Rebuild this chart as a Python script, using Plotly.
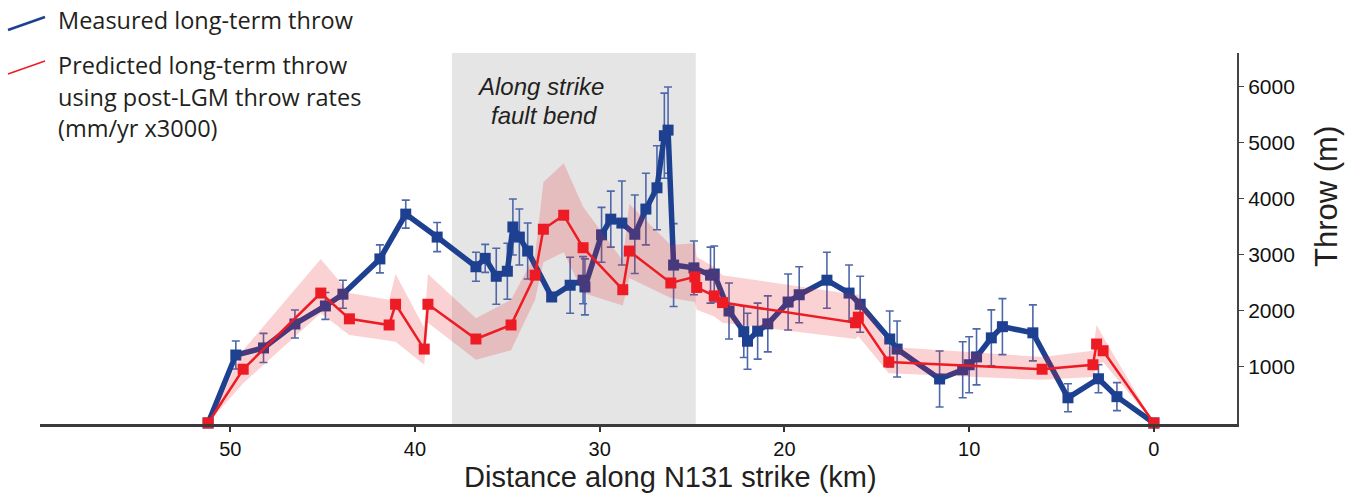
import plotly.graph_objects as go

# Measured long-term throw (blue)
blue_dist = [51.2, 49.7, 48.2, 46.5, 44.85, 43.9, 41.9, 40.5, 38.8, 36.7, 36.2, 35.6, 35.0, 34.7, 34.35,
             33.9, 32.6, 31.6, 30.9, 30.8, 29.9, 29.4, 28.8, 28.1, 27.5, 26.9, 26.5, 26.3, 26.0, 24.9,
             24.0, 23.8, 23.0, 22.2, 22.0, 21.45, 20.9, 19.8, 19.2, 17.7, 16.5, 15.9, 14.3, 13.9, 11.6,
             10.35, 10.0, 9.6, 8.8, 8.2, 6.55, 4.65, 3.0, 2.0, 0.0]
blue_throw = [0, 1214, 1340, 1768, 2090, 2300, 2930, 3730, 3320, 2790, 2940, 2620, 2710, 3500, 3320,
              3070, 2250, 2460, 2550, 2430, 3360, 3640, 3570, 3370, 3820, 4200, 5130, 5230, 2820, 2770,
              2640, 2660, 2000, 1630, 1460, 1640, 1770, 2160, 2290, 2550, 2320, 2120, 1500, 1320, 786,
              950, 1040, 1180, 1520, 1720, 1610, 450, 790, 470, 0]
blue_err = [0, 250, 260, 250, 240, 250, 250, 250, 260, 260, 250, 500, 500, 500, 500,
            500, 0, 500, 420, 500, 490, 500, 750, 700, 640, 750, 760, 770, 740, 480,
            500, 500, 500, 460, 500, 500, 500, 500, 500, 500, 500, 500, 500, 500, 500,
            500, 500, 500, 500, 500, 500, 250, 250, 250, 0]

# Predicted long-term throw (red) with uncertainty envelope
red_dist = [51.2, 49.3, 45.1, 43.55, 41.4, 41.05, 39.5, 39.3, 36.7, 34.8, 33.5, 33.05, 31.95, 30.9,
            28.75, 28.4, 26.15, 24.85, 24.75, 23.8, 23.35, 16.15, 16.0, 14.35, 6.05, 3.3, 3.1, 2.75, 0.0]
red_throw = [0, 960, 2320, 1860, 1750, 2120, 1320, 2120, 1500, 1750, 2640, 3460, 3710, 3130,
             2380, 3070, 2500, 2610, 2420, 2270, 2150, 1790, 1890, 1090, 960, 1040, 1410, 1290, 0]
red_upper = [0, 1300, 2930, 2320, 2200, 2660, 1700, 2660, 1870, 2200, 3000, 4300, 4640, 3860,
             2900, 3910, 3180, 3210, 2970, 2780, 2640, 2290, 2300, 1360, 1180, 1290, 1750, 1540, 0]
red_lower = [0, 710, 1960, 1570, 1470, 1450, 1040, 1790, 1130, 1300, 2200, 2870, 3050, 2320,
             2100, 2590, 2230, 2160, 2020, 1900, 1790, 1500, 1550, 890, 770, 820, 1020, 1090, 0]

bend_start, bend_end = 38.0, 24.8
x_ticks = [0, 10, 20, 30, 40, 50]
y_ticks = [1000, 2000, 3000, 4000, 5000, 6000]

BLUE = "#1e4091"
RED = "#ed1c24"

W, H = 1357, 497
ML, MR, MT, MB = 40, 120, 53, 73
PW, PH = W - ML - MR, H - MT - MB


def px(xp):
    return (xp - ML) / PW


def py(yp):
    return (H - MB - yp) / PH


fig = go.Figure()

fig.add_trace(go.Scatter(
    x=blue_dist, y=blue_throw, mode="lines+markers",
    line=dict(color=BLUE, width=5.5),
    marker=dict(symbol="square", size=11, color=BLUE),
    error_y=dict(type="data", array=blue_err, visible=True, color="#4e68aa", thickness=1.6, width=4),
    cliponaxis=False, showlegend=False,
))

fig.add_trace(go.Scatter(
    x=red_dist + red_dist[::-1], y=red_upper + red_lower[::-1],
    fill="toself", fillcolor="rgba(237,28,36,0.2)", line=dict(width=0),
    mode="lines", hoverinfo="skip", showlegend=False,
))

fig.add_trace(go.Scatter(
    x=red_dist, y=red_throw, mode="lines+markers",
    line=dict(color=RED, width=2.5),
    marker=dict(symbol="square", size=11, color=RED),
    cliponaxis=False, showlegend=False,
))

fig.add_shape(type="rect", xref="x", yref="paper", x0=bend_start, x1=bend_end, y0=0, y1=1,
              fillcolor="#e5e5e5", line=dict(width=0), layer="below")

# legend drawn manually
fig.add_shape(type="line", xref="paper", yref="paper", x0=px(8), y0=py(30), x1=px(45), y1=py(17),
              line=dict(color=BLUE, width=2.5))
fig.add_shape(type="line", xref="paper", yref="paper", x0=px(8), y0=py(74), x1=px(45), y1=py(61),
              line=dict(color=RED, width=1.5))

leg_font = dict(family="Open Sans, Noto Sans, sans-serif", size=23.5, color="#231f20")
for txt, yy in [("Measured long-term throw", 20), ("Predicted long-term throw", 65),
                ("using post-LGM throw rates", 97), ("(mm/yr x3000)", 128)]:
    fig.add_annotation(text=txt, xref="paper", yref="paper", x=px(56), y=py(yy),
                       xanchor="left", yanchor="middle", showarrow=False, font=leg_font)

bend_font = dict(family="Liberation Sans, Arial, sans-serif", size=24, color="#231f20")
fig.add_annotation(text="<i>Along strike</i>", xref="x", yref="paper", x=33.2,
                   y=py(86), showarrow=False, font=bend_font, xanchor="center", yanchor="middle")
fig.add_annotation(text="<i>fault bend</i>", xref="x", yref="paper", x=33.0,
                   y=py(116), showarrow=False, font=bend_font, xanchor="center", yanchor="middle")

title_font = dict(family="Liberation Sans, Arial, sans-serif", size=29, color="#231f20")
fig.add_annotation(text="Distance along N131 strike (km)", xref="paper", yref="paper",
                   x=px(670), y=py(477), showarrow=False, font=title_font,
                   xanchor="center", yanchor="middle")
fig.add_annotation(text="Throw (m)", xref="paper", yref="paper", textangle=-90,
                   x=px(1326), y=py(197), showarrow=False,
                   font=dict(family="Liberation Sans, Arial, sans-serif", size=31, color="#231f20"),
                   xanchor="center", yanchor="middle")

axis_font = dict(family="Liberation Sans, Arial, sans-serif", size=20, color="#111")
fig.update_layout(
    width=W, height=H,
    margin=dict(l=ML, r=MR, t=MT, b=MB),
    paper_bgcolor="white", plot_bgcolor="white",
    xaxis=dict(range=[60.3, -4.5], tickvals=x_ticks, ticks="outside", ticklen=5, tickwidth=1.5,
               tickcolor="#333", showline=True, linecolor="#3a3a3a", linewidth=2.5,
               showgrid=False, zeroline=False, tickfont=axis_font),
    yaxis=dict(range=[-18, 6607], side="right", tickvals=y_ticks, ticks="outside", ticklen=5,
               tickwidth=1, tickcolor="#444", showline=True, linecolor="#444", linewidth=2,
               showgrid=False, zeroline=False, tickfont=dict(family="Liberation Sans, Arial, sans-serif",
                                                             size=21, color="#111")),
)

fig.write_html("out.html")
